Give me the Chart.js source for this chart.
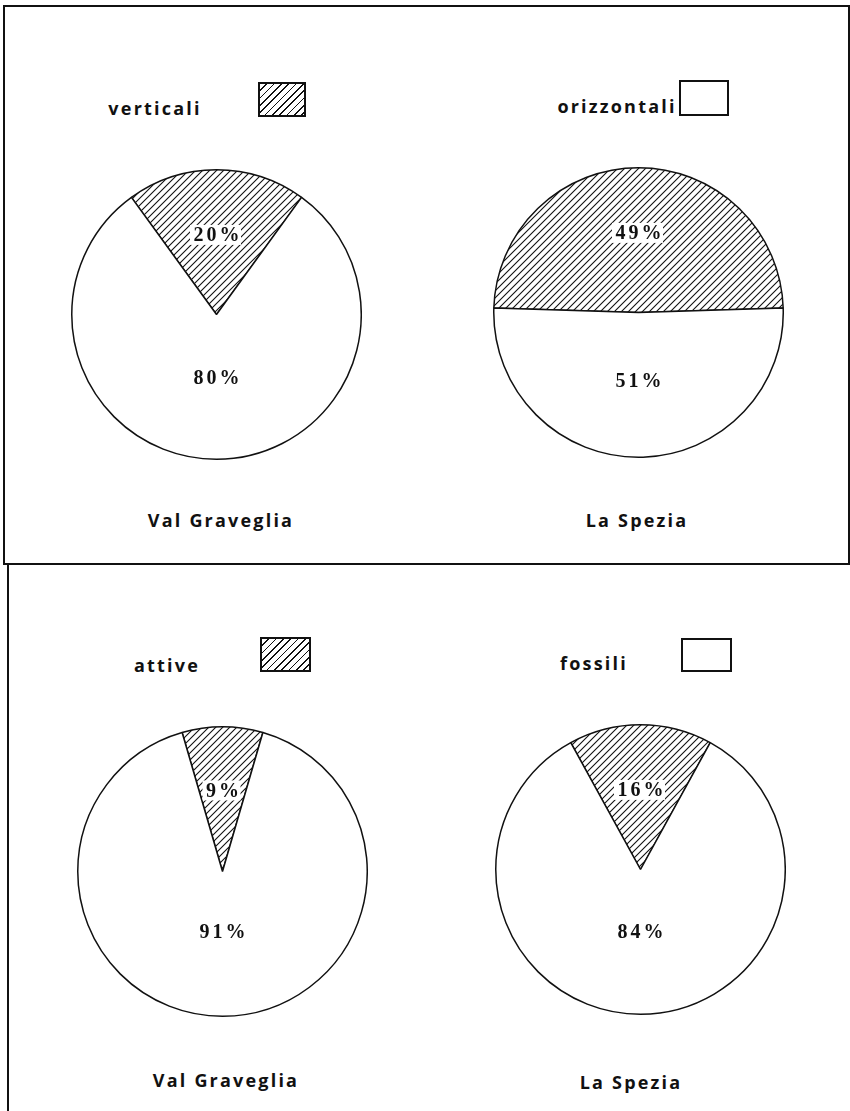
<!DOCTYPE html>
<html>
<head>
<meta charset="utf-8">
<script src="https://cdn.jsdelivr.net/npm/chart.js@4"></script>
<style>
  body { margin: 0; background: #fff; width: 850px; height: 1111px; position: relative; overflow: hidden; }
  .pannello { position: absolute; border-color: #111; border-style: solid; }
  .testo { position: absolute; transform: translate(-50%, -50%); font-family: "Open Sans", "DejaVu Sans", sans-serif;
           font-weight: bold; font-size: 18px; letter-spacing: 2.2px; color: #111; white-space: nowrap; }
  .box { position: absolute; border: 2px solid #111; box-sizing: border-box; background: #fff; }
  .box.tratteggio { background: repeating-linear-gradient(135deg, #fff 0 4px, #111 4px 5.2px); }
  canvas.torta { position: absolute; }
</style>
</head>
<body>
<div class="pannello" style="left:3px; top:5px; width:843px; height:556px; border-width:2px 2px 2px 2px;"></div>
<div class="pannello" style="left:7px; top:563px; width:0; height:560px; border-width:0 0 0 2px;"></div>

<script>
// dati
const categorieSopra = ['verticali', 'orizzontali'];
const categorieSotto = ['attive', 'fossili'];
const localita = ['Val Graveglia', 'La Spezia'];
const valGravegliaSopra = [20, 80];
const laSpeziaSopra = [49, 51];
const valGravegliaSotto = [9, 91];
const laSpeziaSotto = [16, 84];

// layout (centri e posizione delle etichette dentro le fette)
const torte = [
    { id: 'tl', dati: valGravegliaSopra, cx: 216, cy: 314, dist: [0.55, 0.44] },
    { id: 'tr', dati: laSpeziaSopra,     cx: 638, cy: 312, dist: [0.55, 0.47] },
    { id: 'bl', dati: valGravegliaSotto, cx: 222, cy: 871, dist: [0.56, 0.42] },
    { id: 'br', dati: laSpeziaSotto,     cx: 640, cy: 869, dist: [0.55, 0.43] }
];
const LATO = 291;

function scrivi(txt, x, y) {
    const d = document.createElement('div');
    d.className = 'testo';
    d.textContent = txt;
    d.style.left = x + 'px';
    d.style.top = y + 'px';
    document.body.appendChild(d);
}
function riquadro(x, y, w, h, tratteggiato) {
    const d = document.createElement('div');
    d.className = 'box' + (tratteggiato ? ' tratteggio' : '');
    d.style.left = x + 'px'; d.style.top = y + 'px';
    d.style.width = w + 'px'; d.style.height = h + 'px';
    document.body.appendChild(d);
}

// legende e nomi
scrivi(categorieSopra[0], 155, 108);
riquadro(258, 82, 48, 35, true);
scrivi(categorieSopra[1], 617, 106);
riquadro(679, 80, 50, 36, false);
scrivi(categorieSotto[0], 167, 665);
riquadro(260, 637, 51, 35, true);
scrivi(categorieSotto[1], 594, 663);
riquadro(681, 638, 51, 34, false);

scrivi(localita[0], 221, 520);
scrivi(localita[1], 637, 520);
scrivi(localita[0], 226, 1080);
scrivi(localita[1], 631, 1082);

// motivo a tratteggio
function creaTratteggio() {
    const s = 7;
    const c = document.createElement('canvas');
    c.width = s; c.height = s;
    const g = c.getContext('2d');
    g.fillStyle = '#fff';
    g.fillRect(0, 0, s, s);
    g.strokeStyle = '#111';
    g.lineWidth = 1.1;
    g.beginPath();
    g.moveTo(-1, s + 1); g.lineTo(s + 1, -1);
    g.moveTo(-1, 1); g.lineTo(1, -1);
    g.moveTo(s - 1, s + 1); g.lineTo(s + 1, s - 1);
    g.stroke();
    return g.createPattern(c, 'repeat');
}
const tratteggio = creaTratteggio();

// etichette percentuali
const etichette = {
    id: 'etichette',
    afterDatasetsDraw(chart, args, opts) {
        const ctx = chart.ctx;
        const archi = chart.getDatasetMeta(0).data;
        const valori = chart.data.datasets[0].data;
        ctx.save();
        ctx.font = 'bold 20px "Liberation Serif", "DejaVu Serif", serif';
        if ('letterSpacing' in ctx) ctx.letterSpacing = '3px';
        ctx.textAlign = 'center';
        ctx.textBaseline = 'middle';
        archi.forEach((a, i) => {
            const p = a.getProps(['x', 'y', 'startAngle', 'endAngle', 'outerRadius'], true);
            const m = (p.startAngle + p.endAngle) / 2;
            const r = p.outerRadius * opts.dist[i];
            const x = p.x + Math.cos(m) * r;
            const y = p.y + Math.sin(m) * r;
            const t = valori[i] + '%';
            const w = ctx.measureText(t).width;
            ctx.fillStyle = '#fff';
            ctx.fillRect(x - w / 2 - 2, y - 10, w + 2, 20);
            ctx.fillStyle = '#111';
            ctx.fillText(t, x + 1.5, y + 1);
        });
        ctx.restore();
    }
};

torte.forEach(t => {
    const cv = document.createElement('canvas');
    cv.className = 'torta';
    cv.width = LATO; cv.height = LATO;
    cv.style.left = (t.cx - LATO / 2) + 'px';
    cv.style.top = (t.cy - LATO / 2) + 'px';
    document.body.appendChild(cv);
    new Chart(cv.getContext('2d'), {
        type: 'pie',
        data: {
            labels: t.id[0] === 't' ? categorieSopra : categorieSotto,
            datasets: [{
                data: t.dati,
                backgroundColor: [tratteggio, '#fff'],
                borderColor: '#111',
                borderWidth: 1.5
            }]
        },
        options: {
            responsive: false,
            animation: false,
            rotation: -t.dati[0] / 100 * 180,
            layout: { padding: 0 },
            plugins: {
                legend: { display: false },
                tooltip: { enabled: false },
                etichette: { dist: t.dist }
            }
        },
        plugins: [etichette]
    });
});
</script>
</body>
</html>
